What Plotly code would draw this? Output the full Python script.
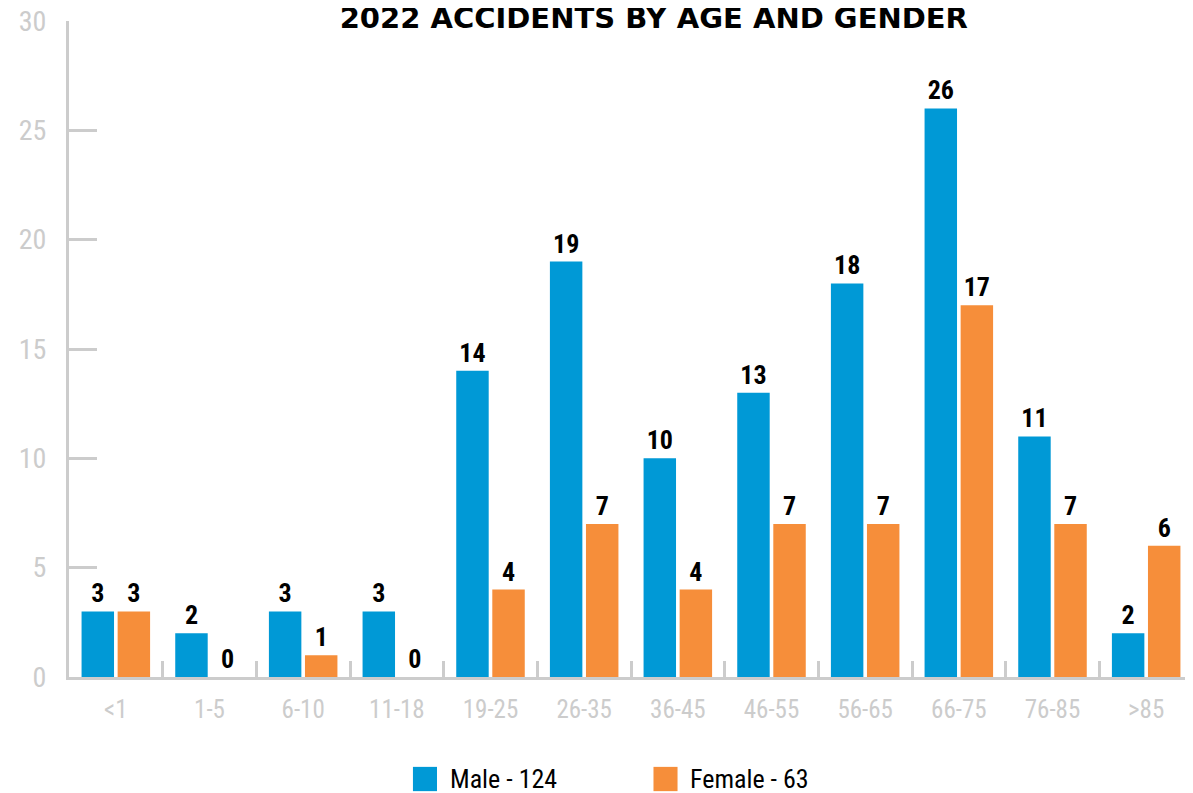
import plotly.graph_objects as go

ages = ["<1", "1-5", "6-10", "11-18", "19-25", "26-35", "36-45", "46-55", "56-65", "66-75", "76-85", ">85"]
male = [3, 2, 3, 3, 14, 19, 10, 13, 18, 26, 11, 2]
female = [3, 0, 1, 0, 4, 7, 4, 7, 7, 17, 7, 6]
y_ticks = [0, 5, 10, 15, 20, 25, 30]

BLUE = "#0099d6"
ORANGE = "#f68e3a"
GREY = "#cccccc"
NARROW = "Liberation Sans Narrow, Roboto Condensed, Arial Narrow, sans-serif"

series = [("Male - " + str(sum(male)), male, BLUE),
          ("Female - " + str(sum(female)), female, ORANGE)]

fig = go.Figure()
for name, vals, col in series:
  fig.add_trace(go.Bar(x=ages, y=vals, name=name, showlegend=False,
                       marker=dict(color=col, line=dict(width=0)),
                       text=vals, textposition="outside",
                       textfont=dict(size=26, color="black", family=NARROW, weight="bold")))

fig.update_traces(cliponaxis=False, constraintext="none")

# legend drawn as squares + labels under the plot (bigger swatches than plotly's legend)
leg_x = [0.306, 0.520]
for (name, vals, col), lx in zip(series, leg_x):
  fig.add_shape(type="rect", xref="paper", yref="paper",
                x0=lx, x1=lx + 0.0214, y0=-0.137, y1=-0.174,
                fillcolor=col, line=dict(width=0))
  fig.add_annotation(x=lx + 0.031, y=-0.1555, xref="paper", yref="paper",
                     xanchor="left", yanchor="middle", showarrow=False, text=name,
                     font=dict(family=NARROW, size=26, color="black"))

# page body has an 8px margin, so the figure is 8px smaller than the window
fig.update_layout(
  width=1185, height=785,
  paper_bgcolor="white", plot_bgcolor="white",
  margin=dict(l=61, r=0, t=13, b=116),
  bargap=0.23, bargroupgap=0.1,
  showlegend=False,
  title=dict(text="<b>2022 ACCIDENTS BY AGE AND GENDER</b>",
             x=0.545, xanchor="center", y=1, yanchor="top", pad=dict(t=0),
             font=dict(family="DejaVu Sans", size=29, color="black")),
  xaxis=dict(type="category", range=[-0.5, 11.5], showline=True, linecolor=GREY, linewidth=3,
             ticks="inside", tickson="boundaries", ticklen=16, tickwidth=3, tickcolor=GREY,
             showgrid=False, automargin=False, ticklabelstandoff=8,
             tickfont=dict(family=NARROW, size=25, color=GREY)),
  yaxis=dict(range=[0, 30], tickvals=y_ticks, showline=True, linecolor=GREY, linewidth=3,
             ticks="inside", ticklen=28, tickwidth=3, tickcolor=GREY, showgrid=False,
             zeroline=False, ticklabelstandoff=14, automargin=False, ticklabeloverflow="allow",
             tickfont=dict(family=NARROW, size=28, color=GREY)),
)

fig.write_html("out.html")
